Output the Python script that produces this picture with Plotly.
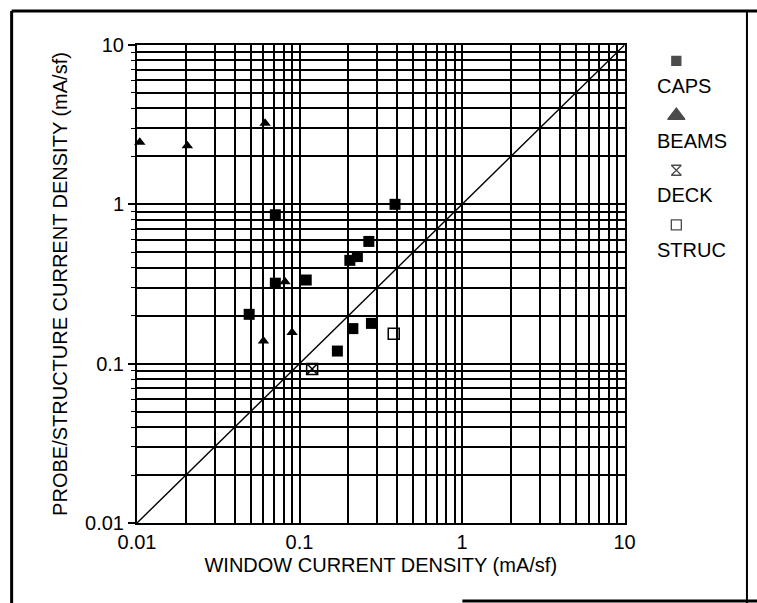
import plotly.graph_objects as go

# ---- data ----
caps_x = [0.049, 0.071, 0.071, 0.110, 0.204, 0.227, 0.267, 0.387, 0.171, 0.213, 0.277]
caps_y = [0.204, 0.86, 0.32, 0.335, 0.445, 0.47, 0.585, 1.0, 0.120, 0.166, 0.179]
beams_x = [0.0104, 0.0204, 0.0614, 0.0814, 0.060, 0.090]
beams_y = [2.45, 2.33, 3.23, 0.327, 0.139, 0.157]
deck_x = [0.1196]
deck_y = [0.0926]
struc_x = [0.380]
struc_y = [0.154]
unity = [0.01, 10]

series_names = ["CAPS", "BEAMS", "DECK", "STRUC"]
decade_vals = [0.01, 0.1, 1, 10]
decade_text = ["0.01", "0.1", "1", "10"]

FONT = "Liberation Sans, Arial, sans-serif"
BLACK = "#000000"

styles = {
    "CAPS": dict(symbol="square", size=11, color=BLACK, line=dict(width=0)),
    "BEAMS": dict(symbol="triangle-up", size=10, color=BLACK, line=dict(width=0)),
    "DECK": dict(symbol="square-x-open", size=11, color=BLACK, line=dict(width=1.5, color=BLACK)),
    "STRUC": dict(symbol="square-open", size=11, color=BLACK, line=dict(width=1.5, color=BLACK)),
}
legend_styles = {
    "CAPS": dict(symbol="square", size=9),
    "BEAMS": dict(symbol="triangle-up", size=15),
    "DECK": dict(symbol="hourglass-open", size=10),
    "STRUC": dict(symbol="square-open", size=10),
}

data = {
    "CAPS": (caps_x, caps_y),
    "BEAMS": (beams_x, beams_y),
    "DECK": (deck_x, deck_y),
    "STRUC": (struc_x, struc_y),
}

fig = go.Figure()

# unity line
fig.add_trace(go.Scatter(x=unity, y=unity, mode="lines",
                         line=dict(color=BLACK, width=1.4),
                         showlegend=False, hoverinfo="skip"))

for name in series_names:
    xs, ys = data[name]
    fig.add_trace(go.Scatter(x=xs, y=ys, mode="markers", name=name,
                             marker=styles[name], showlegend=False,
                             cliponaxis=False))

# custom legend: marker above text, on an overlay axis in the right margin
leg_idx = [-i for i in range(len(series_names))]
fig.add_trace(go.Scatter(
    x=[0.356] * len(series_names), y=leg_idx, mode="markers",
    xaxis="x2", yaxis="y2", showlegend=False, hoverinfo="skip",
    marker=dict(symbol=[legend_styles[n]["symbol"] for n in series_names],
                size=[legend_styles[n]["size"] for n in series_names],
                color=BLACK, line=dict(width=1.3, color=BLACK)),
))

annotations = []
for i, n in enumerate(series_names):
    annotations.append(dict(xref="x2", yref="y2", x=0.122, y=-i - 0.457,
                            text=n, showarrow=False, xanchor="left",
                            yanchor="middle",
                            font=dict(family=FONT, size=20, color=BLACK)))

axis_common = dict(
    type="log",
    tickmode="array",
    tickvals=decade_vals,
    ticktext=decade_text,
    tickcolor=BLACK,
    showgrid=True,
    gridcolor=BLACK,
    gridwidth=2,
    showline=True,
    linecolor=BLACK,
    linewidth=2,
    mirror=True,
    zeroline=False,
    tickfont=dict(family=FONT, size=20, color=BLACK),
)

fig.update_layout(
    width=757, height=603,
    margin=dict(l=137, r=20, t=45, b=80),
    paper_bgcolor="white",
    plot_bgcolor="white",
    font=dict(family=FONT, color=BLACK, size=20),
    xaxis=dict(axis_common, domain=[0, 490 / 600], range=[-2, 1],
               ticks="",
               minor=dict(dtick="D1", showgrid=True, gridcolor=BLACK, gridwidth=1.6),
               title=dict(text="WINDOW CURRENT DENSITY (mA/sf)",
                          font=dict(family=FONT, size=20, color=BLACK),
                          standoff=6)),
    yaxis=dict(axis_common, range=[-2, 1],
               ticks="outside", ticklen=7, tickwidth=1.5,
               minor=dict(dtick="D1", showgrid=True, gridcolor=BLACK, gridwidth=1.6,
                          ticks="outside", ticklen=4, tickcolor=BLACK, tickwidth=1),
               title=dict(text="PROBE/STRUCTURE CURRENT DENSITY (mA/sf)",
                          font=dict(family=FONT, size=20, color=BLACK),
                          standoff=12)),
    xaxis2=dict(domain=[0.85, 1.0], range=[0, 1], anchor="y2",
                visible=False, fixedrange=True),
    yaxis2=dict(domain=[0, 1], range=[-8.45, 0.29], anchor="x2",
                visible=False, fixedrange=True),
    annotations=annotations,
    shapes=[
        dict(type="line", xref="paper", yref="paper", x0=-0.21, x1=1.04,
             y0=1.0711, y1=1.0711, line=dict(color=BLACK, width=3)),
        dict(type="line", xref="paper", yref="paper", x0=-0.21, x1=-0.21,
             y0=1.0711, y1=-0.17, line=dict(color=BLACK, width=3)),
        dict(type="line", xref="paper", yref="paper", x0=1.0217, x1=1.0217,
             y0=1.0711, y1=-0.17, line=dict(color=BLACK, width=2)),
        dict(type="line", xref="paper", yref="paper", x0=(464 - 137) / 600, x1=1.04,
             y0=-0.1632, y1=-0.1632, line=dict(color=BLACK, width=3)),
    ],
    showlegend=False,
)

fig.write_html("out.html",
               config={"displayModeBar": False},
               post_script="document.body.style.margin='0px';document.body.style.overflow='hidden';")
